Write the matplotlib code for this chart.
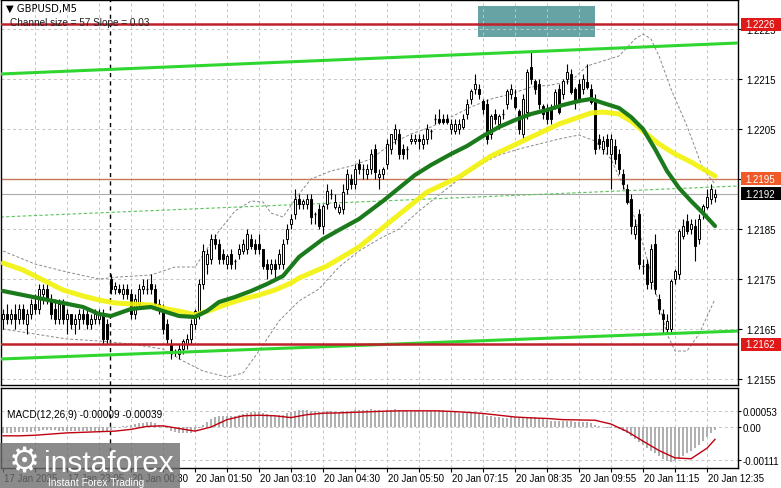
import matplotlib
matplotlib.use('Agg')
import matplotlib.pyplot as plt
from matplotlib.patches import Rectangle
import matplotlib.transforms as mtrans

plt.rcParams['font.family'] = ['Liberation Sans', 'DejaVu Sans']

# ---------------- data (GBPUSD M5) ----------------
opens = [1.2167,1.2168,1.2167,1.2168,1.2167,1.2169,1.2166,1.2168,1.2170,1.2169,
 1.2172,1.2173,1.2171,1.2169,1.2167,1.2170,1.2167,1.2168,1.2166,1.2167,
 1.2168,1.2168,1.2166,1.2167,1.2167,1.2168,1.2166,1.2175,1.2173,1.2173,
 1.2172,1.2173,1.2172,1.2168,1.2170,1.2173,1.2173,1.2174,1.2173,1.2169,
 1.2169,1.2166,1.2162,1.21605,1.2160,1.2161,1.2162,1.2163,1.2166,1.2168,
 1.2174,1.2178,1.2179,1.2183,1.2182,1.2180,1.2178,1.2180,1.21785,1.2180,
 1.21805,1.2181,1.2183,1.2182,1.2182,1.2181,1.2178,1.2177,1.2178,1.2178,
 1.2178,1.2183,1.2186,1.2188,1.2191,1.2190,1.2190,1.2191,1.2188,1.2189,
 1.21855,1.2190,1.2192,1.21895,1.21885,1.2189,1.2193,1.2195,1.2194,1.2198,
 1.2197,1.2196,1.2197,1.2201,1.21955,1.2196,1.2198,1.2201,1.2203,1.2204,
 1.2201,1.2201,1.22025,1.22025,1.2203,1.2202,1.2203,1.22045,1.2207,1.2207,
 1.2207,1.2207,1.2205,1.22045,1.2205,1.22055,1.2208,1.2211,1.2213,1.2213,
 1.22105,1.2210,1.2204,1.2208,1.2206,1.2208,1.2210,1.2212,1.22115,1.22085,
 1.2204,1.22085,1.22175,1.22145,1.2214,1.22095,1.2209,1.2209,1.22095,1.2213,
 1.2212,1.2215,1.2216,1.2213,1.2214,1.2213,1.22145,1.2213,1.2211,1.2203,
 1.2201,1.2203,1.2200,1.22015,1.2200,1.2196,1.2193,1.2191,1.2184,1.2188,
 1.21775,1.2178,1.21745,1.2182,1.2171,1.2168,1.2165,1.2165,1.2175,1.2176,
 1.21835,1.21865,1.2185,1.21855,1.2183,1.2188,1.21895,1.2191,1.21915]
highs = [1.2169,1.2170,1.2169,1.2170,1.2170,1.2170,1.2169,1.2171,1.2172,1.2174,
 1.2174,1.2174,1.2172,1.2171,1.2171,1.2171,1.2169,1.2168,1.2168,1.2169,
 1.2169,1.2169,1.2168,1.2169,1.2169,1.2169,1.2167,1.2176,1.21745,1.2174,
 1.2174,1.2174,1.2173,1.2172,1.2174,1.2175,1.2175,1.2176,1.2174,1.2171,
 1.2170,1.2167,1.2163,1.2161,1.2162,1.2163,1.2164,1.2167,1.2169,1.2175,
 1.2182,1.2181,1.2184,1.2184,1.2183,1.2181,1.2180,1.2181,1.2179,1.2182,
 1.2183,1.2185,1.2184,1.2183,1.2184,1.2181,1.2179,1.2179,1.2179,1.2181,
 1.2183,1.2186,1.2188,1.2193,1.2192,1.2191,1.2192,1.2192,1.21885,1.2190,
 1.2190,1.2194,1.2193,1.2192,1.2190,1.2194,1.2197,1.2196,1.2198,1.2199,
 1.2198,1.2198,1.2201,1.2202,1.2197,1.21975,1.2203,1.2204,1.2206,1.2205,
 1.2202,1.22015,1.2204,1.2204,1.2204,1.2204,1.2206,1.2205,1.2208,1.2209,
 1.2208,1.2208,1.2207,1.2207,1.2207,1.2208,1.2211,1.2213,1.2216,1.2214,
 1.2211,1.2211,1.2208,1.2209,1.2208,1.2209,1.2213,1.2214,1.2213,1.2209,
 1.2212,1.2217,1.22205,1.2215,1.2215,1.2210,1.2210,1.2210,1.2213,1.2214,
 1.2215,1.2218,1.2217,1.22135,1.2215,1.2216,1.2218,1.2214,1.2212,1.2204,
 1.22035,1.2204,1.2204,1.2203,1.2201,1.2197,1.2194,1.2192,1.2187,1.2189,
 1.2179,1.2179,1.2182,1.2184,1.2172,1.2169,1.2168,1.2175,1.2177,1.2185,
 1.2187,1.2188,1.2187,1.2187,1.2188,1.2190,1.2193,1.2194,1.2193]
lows = [1.2165,1.2166,1.2166,1.2165,1.2166,1.2166,1.2164,1.2167,1.2168,1.2168,
 1.2170,1.2170,1.2167,1.2166,1.2166,1.2166,1.2164,1.2165,1.2164,1.2165,
 1.2166,1.2165,1.2165,1.2166,1.2166,1.2162,1.2162,1.2172,1.2172,1.2172,
 1.2171,1.2171,1.2167,1.2167,1.2169,1.2172,1.2172,1.2172,1.2169,1.2168,
 1.2164,1.2162,1.2159,1.21595,1.2159,1.2160,1.2161,1.2162,1.2165,1.2167,
 1.2173,1.2176,1.2178,1.2181,1.2178,1.2178,1.2177,1.2177,1.2177,1.2179,
 1.2180,1.2180,1.2181,1.2180,1.2180,1.2177,1.2175,1.2176,1.2175,1.2177,
 1.2177,1.2182,1.2185,1.2187,1.2189,1.2189,1.2189,1.2186,1.2186,1.2185,
 1.2184,1.2189,1.2191,1.2189,1.2188,1.2188,1.2192,1.2193,1.2193,1.2196,
 1.2195,1.2195,1.2196,1.2195,1.2193,1.2195,1.2197,1.2200,1.2202,1.2199,
 1.2199,1.2199,1.2202,1.2202,1.2201,1.2201,1.2202,1.2203,1.2206,1.2206,
 1.2206,1.2206,1.2204,1.2204,1.2204,1.2205,1.2207,1.2210,1.2212,1.2211,
 1.2208,1.2202,1.2203,1.2206,1.2205,1.2207,1.2209,1.2211,1.2209,1.2204,
 1.2203,1.2207,1.2214,1.2212,1.2209,1.2207,1.2206,1.2206,1.2209,1.2208,
 1.2211,1.2214,1.2212,1.2209,1.2211,1.2212,1.2213,1.2210,1.2200,1.2201,
 1.2200,1.2200,1.2193,1.2198,1.2196,1.2193,1.2190,1.2184,1.2183,1.2177,
 1.2176,1.2173,1.2173,1.2172,1.2168,1.2164,1.2164,1.2164,1.2174,1.2175,
 1.2183,1.2184,1.2184,1.21785,1.2182,1.2187,1.2189,1.2190,1.21905]
closes = [1.2168,1.2167,1.2168,1.2167,1.2169,1.2167,1.2168,1.2170,1.2169,1.2173,
 1.2173,1.2171,1.2168,1.2167,1.2170,1.2167,1.2168,1.2166,1.2167,1.2168,
 1.2167,1.2166,1.2167,1.2168,1.2168,1.2163,1.2163,1.2173,1.21735,1.21725,
 1.2173,1.2172,1.2168,1.2171,1.2173,1.21735,1.2173,1.2173,1.2170,1.2170,
 1.2165,1.2163,1.21605,1.21605,1.2161,1.21625,1.2163,1.2166,1.21685,1.2174,
 1.21805,1.2180,1.2183,1.2182,1.2179,1.2179,1.21795,1.2178,1.21785,1.2181,
 1.2182,1.2184,1.21815,1.2181,1.2181,1.21775,1.2177,1.2178,1.2177,1.2180,
 1.2182,1.2185,1.2187,1.2191,1.2190,1.21905,1.2191,1.21875,1.2188,1.21855,
 1.21895,1.21925,1.2192,1.21905,1.21895,1.21925,1.2196,1.2194,1.2197,1.2197,
 1.2197,1.2197,1.2200,1.21965,1.2196,1.2197,1.2202,1.2204,1.2205,1.2200,
 1.2200,1.2201,1.2203,1.2203,1.22025,1.2203,1.2205,1.22045,1.2207,1.22065,
 1.22065,1.22065,1.2206,1.2206,1.2206,1.2207,1.2210,1.22125,1.2214,1.2212,
 1.2209,1.2203,1.22075,1.2207,1.22075,1.2208,1.22125,1.2213,1.22095,1.2205,
 1.2211,1.22165,1.2215,1.2213,1.2210,1.2208,1.2207,1.2207,1.22125,1.22085,
 1.22145,1.22165,1.22125,1.22105,1.2211,1.2215,1.22135,1.22105,1.2201,1.2202,
 1.22025,1.22015,1.2203,1.2199,1.2197,1.2194,1.21905,1.21855,1.21855,1.2178,
 1.21775,1.2174,1.2181,1.2173,1.2169,1.2167,1.21665,1.21745,1.21765,1.21845,
 1.21855,1.21845,1.2186,1.21815,1.2187,1.21895,1.21915,1.2193,1.2192]

# moving averages read at selected bars
ma_fast_idx = [0,5,10,15,20,24,27,32,37,40,44,48,51,54,58,62,66,70,74,80,84,89,95,99,
               103,107,112,116,120,124,128,132,136,140,144,147,150,154,157,160,163,166,
               169,172,175,178]
ma_fast = [1.21726,1.21718,1.21710,1.21702,1.21694,1.21680,1.21676,1.21690,1.21694,1.21686,
           1.21676,1.21674,1.21686,1.21704,1.21714,1.21726,1.21740,1.21756,1.21794,1.21830,
           1.21848,1.21870,1.21906,1.21932,1.21958,1.21978,1.22000,1.22016,1.22036,1.22054,
           1.22068,1.22080,1.22088,1.22098,1.22106,1.22110,1.22102,1.22092,1.22074,1.22050,
           1.22010,1.21966,1.21932,1.21906,1.21882,1.21856]
ma_slow_idx = [0,5,10,15,20,24,28,32,37,41,45,48,52,56,60,64,68,72,74,81,89,97,106,114,
               122,131,139,147,150,154,157,160,164,168,172,175,178]
ma_slow = [1.21782,1.21768,1.21748,1.21728,1.21716,1.21708,1.21702,1.21700,1.21698,1.21690,
           1.21684,1.21678,1.21688,1.21700,1.21710,1.21718,1.21728,1.21742,1.21752,1.21776,
           1.21814,1.21866,1.21924,1.21954,1.21996,1.22030,1.22060,1.22082,1.22084,1.22080,
           1.22066,1.22046,1.22020,1.22000,1.21984,1.21970,1.21956]
band_up_idx = [0,8,16,24,29,37,43,48,51,54,58,62,65,67,70,74,77,82,87,92,97,102,107,112,
               117,122,127,132,137,142,146,150,154,158,160,162,164,167,171,175,178]
band_up = [1.21806,1.21780,1.21764,1.21750,1.21754,1.21758,1.21774,1.21774,1.21810,1.21846,
           1.21886,1.21906,1.21904,1.21882,1.21874,1.21920,1.21950,1.21966,1.21976,1.21990,
           1.22020,1.22040,1.22054,1.22074,1.22094,1.22110,1.22120,1.22134,1.22138,1.22146,
           1.22176,1.22186,1.22196,1.22230,1.22240,1.22230,1.22196,1.22130,1.22056,1.21970,
           1.21940]
band_dn_idx = [0,8,16,24,32,40,45,50,56,60,64,69,74,79,84,89,94,99,104,109,114,119,124,
               129,134,139,144,148,152,156,160,163,166,168,171,174,178]
band_dn = [1.21650,1.21640,1.21630,1.21626,1.21620,1.21610,1.21586,1.21566,1.21554,1.21562,
           1.21606,1.21666,1.21706,1.21730,1.21774,1.21806,1.21830,1.21850,1.21886,1.21918,
           1.21950,1.21978,1.21998,1.22010,1.22020,1.22030,1.22038,1.22026,1.21990,1.21920,
           1.21820,1.21730,1.21640,1.21606,1.21606,1.21640,1.21710]

# MACD(12,26,9)
macd_hist = [-0.00020,-0.00020,-0.00019,-0.00018,-0.00018,-0.00017,-0.00017,-0.00016,-0.00014,-0.00012,-0.00010,
 -0.00010,-0.00010,-0.00011,-0.00012,-0.00012,-0.00013,-0.00013,-0.00014,-0.00014,-0.00014,
 -0.00014,-0.00013,-0.00013,-0.00012,-0.00014,-0.00016,
 -0.00010,-0.00005,0.00000,0.00003,0.00005,
 0.00008,0.00010,0.00013,0.00015,0.00017,0.00016,
 0.00012,0.00008,0.00002,-0.00005,-0.00012,-0.00017,-0.00020,-0.00022,-0.00022,-0.00020,
 -0.00015,-0.00005,0.00008,0.00018,0.00028,
 0.00033,0.00036,0.00038,0.00038,0.00038,0.00039,0.00042,0.00045,
 0.00048,0.00050,0.00050,0.00050,0.00047,0.00044,0.00042,0.00040,0.00040,0.00042,
 0.00046,0.00050,0.00055,0.00057,0.00058,0.00058,0.00056,0.00054,0.00052,0.00052,
 0.00053,0.00053,0.00052,0.00052,0.00053,0.00055,0.00056,0.00057,0.00058,0.00059,
 0.00059,0.00060,0.00058,0.00057,0.00056,0.00057,0.00059,0.00060,0.00058,0.00056,
 0.00055,0.00055,0.00055,0.00054,0.00054,0.00055,0.00055,0.00056,0.00057,0.00057,
 0.00055,0.00052,0.00050,0.00048,0.00047,0.00047,0.00048,0.00048,0.00047,0.00044,
 0.00038,0.00036,0.00034,0.00033,0.00032,0.00032,0.00033,0.00033,0.00031,0.00029,
 0.00032,0.00034,0.00033,0.00030,0.00027,0.00024,0.00022,0.00022,0.00020,0.00020,
 0.00021,0.00020,0.00018,0.00017,0.00018,0.00017,0.00014,0.00008,
 0.00004,0.00001,-0.00002,-0.00002,-0.00005,-0.00008,-0.00014,-0.00022,-0.00032,-0.00040,
 -0.00052,-0.00062,-0.00072,-0.00080,-0.00090,-0.00098,-0.00108,-0.00115,-0.00118,-0.00117,
 -0.00110,-0.00100,-0.00090,-0.00080,-0.00070,-0.00060,-0.00048,-0.00035,-0.00022,-0.00009]
signal_idx = [0,4,8,12,16,20,24,28,32,36,40,44,48,52,56,60,64,68,72,76,80,84,88,92,96,
              100,104,108,112,116,120,124,128,132,136,140,144,148,152,156,160,164,168,172,
              176,178]
signal = [-0.00030,-0.00030,-0.00028,-0.00024,-0.00020,-0.00018,-0.00016,-0.00014,-0.00008,
          0.00002,0.00004,-0.00005,-0.00014,0.00000,0.00025,0.00038,0.00040,0.00038,0.00032,
          0.00042,0.00047,0.00048,0.00050,0.00052,0.00054,0.00055,0.00055,0.00055,0.00053,
          0.00050,0.00046,0.00040,0.00034,0.00031,0.00029,0.00025,0.00024,0.00023,0.00010,
          -0.00015,-0.00048,-0.00080,-0.00105,-0.00108,-0.00072,-0.00042]

# levels and drawn objects
resistance = 1.2226
support = 1.2162
orange_level = 1.2195
bid = 1.2192
channel_upper = [1.22160, 1.22222]
channel_lower = [1.21590, 1.21646]
green_dashed = [1.21874, 1.21936]
zone_bars = [118.75, 148.0]
zone_prices = [1.22234, 1.22296]

price_ticks = [1.2155, 1.2165, 1.2175, 1.2185, 1.2195, 1.2205, 1.2215, 1.2225]
price_labels = ['1.2155', '1.2165', '1.2175', '1.2185', '', '1.2205', '1.2215', '1.2225']
macd_ticks = [-0.00111, 0.0, 0.00053]
macd_labels = ['-0.00111', '0.00', '0.00053']
time_idx = [0, 16, 32, 48, 64, 80, 96, 112, 128, 144, 160, 176]
time_labels = ['17 Jan 2025', '17 Jan 23:05', '20 Jan 00:30', '20 Jan 01:50',
               '20 Jan 03:10', '20 Jan 04:30', '20 Jan 05:50', '20 Jan 07:15',
               '20 Jan 08:35', '20 Jan 09:55', '20 Jan 11:15', '20 Jan 12:35']
day_sep = 26.75

# ---------------- figure ----------------
W, H = 781, 489
fig = plt.figure(figsize=(W / 100, H / 100), dpi=100)
fig.patch.set_facecolor('white')

def fx(px):
    return px / W

def fy(py):
    return 1 - py / H

ax = fig.add_axes([fx(0.5), fy(386), fx(738) - fx(0.5), fy(1) - fy(386)])
ax2 = fig.add_axes([fx(0.5), fy(469), fx(738) - fx(0.5), fy(389) - fy(469)])

XL = (-0.625, 183.75)
for a in (ax, ax2):
    a.set_xlim(*XL)
    for s in a.spines.values():
        s.set_color('black')
        s.set_linewidth(1.0)
    a.set_facecolor('white')
ax.set_ylim(1.21538, 1.22308)
ax2.set_ylim(-0.001394, 0.001326)

grid_kw = dict(color='#c4c4c4', lw=0.7, ls=(0, (3, 3)), zorder=1)
for p in price_ticks:
    ax.axhline(p, **grid_kw)
for m in macd_ticks:
    ax2.axhline(m, **grid_kw)
for i in range(8, 184, 8):
    ax.axvline(i, **grid_kw)
    ax2.axvline(i, **grid_kw)
for a in (ax, ax2):
    a.axvline(day_sep, color='black', lw=1.0, ls=(0, (3, 3)), zorder=2)

# zone box
ax.add_patch(Rectangle((zone_bars[0], zone_prices[0]), zone_bars[1] - zone_bars[0],
                       zone_prices[1] - zone_prices[0], facecolor='#5f9ea0',
                       edgecolor='none', alpha=0.95, zorder=0.5))

# bands
band_kw = dict(color='#8a8a8a', lw=0.7, ls=(0, (3, 2)), zorder=2)
ax.plot(band_up_idx, band_up, **band_kw)
ax.plot(band_dn_idx, band_dn, **band_kw)

# horizontal levels / channel
ax.axhline(orange_level, color='#c8785a', lw=1.0, zorder=2)
ax.axhline(bid, color='#aaaaaa', lw=0.8, zorder=2)
ax.plot(XL, green_dashed, color='#5ec45e', lw=0.8, ls=(0, (3, 2)), zorder=2)
ax.plot(XL, channel_upper, color='#2fd62f', lw=2.2, zorder=5, solid_capstyle='butt')
ax.plot(XL, channel_lower, color='#2fd62f', lw=2.2, zorder=5, solid_capstyle='butt')

# candles
for i, (o, h, l, c) in enumerate(zip(opens, highs, lows, closes)):
    ax.vlines(i, l, h, color='black', lw=0.8, zorder=3)
    lo, hi = min(o, c), max(o, c)
    if hi - lo < 0.00002:
        ax.hlines(o, i - 0.35, i + 0.35, color='black', lw=0.9, zorder=3.1)
    else:
        fc = 'white' if c > o else 'black'
        ax.bar(i, hi - lo, bottom=lo, width=0.72, facecolor=fc, edgecolor='black',
               linewidth=0.7, zorder=3.1)

# moving averages
ax.plot(ma_slow_idx, ma_slow, color='#f2f20a', lw=3.6, alpha=0.9, zorder=4,
        solid_capstyle='round')
ax.plot(ma_fast_idx, ma_fast, color='#1b7a1b', lw=3.0, zorder=4.2, solid_capstyle='round')

ax.axhline(resistance, color='#c0202a', lw=1.8, zorder=6)
ax.axhline(support, color='#c0202a', lw=1.8, zorder=6)

# y axis (right)
ax.yaxis.tick_right()
ax.set_yticks(price_ticks)
ax.set_yticklabels(price_labels)
ax.tick_params(axis='y', length=3, width=0.8, labelsize=7, pad=3, colors='black')
ax.tick_params(axis='x', length=0, labelbottom=False)

blend = mtrans.blended_transform_factory(ax.transAxes, ax.transData)
box_h = 13 / 50000.0
def tag(val, txt, bg):
    ax.add_patch(Rectangle((1.0 + 3 / 737, val - box_h / 2), 43 / 737, box_h,
                           transform=blend, facecolor=bg, edgecolor='none',
                           clip_on=False, zorder=9))
    ax.text(1.0 + 7 / 737, val, txt, transform=blend, ha='left', va='center',
            fontsize=7, color='white', zorder=10, clip_on=False)
tag(resistance, '1.2226', '#e01818')
tag(orange_level, '1.2195', '#f05a28')
tag(bid, '1.2192', '#000000')
tag(support, '1.2162', '#e01818')

# MACD panel
ax2.bar(range(len(macd_hist)), macd_hist, width=0.5, color='#b0b0b0', zorder=2)
ax2.plot(signal_idx, signal, color='#c00010', lw=1.0, zorder=3)
ax2.yaxis.tick_right()
ax2.set_yticks(macd_ticks)
ax2.set_yticklabels(macd_labels)
ax2.tick_params(axis='y', length=2, width=0.8, labelsize=7, pad=1)
ax2.set_xticks(list(range(0, 184, 8)))
ax2.set_xticklabels([])
ax2.tick_params(axis='x', length=3, width=0.8, direction='out')

for i, t in zip(time_idx, time_labels):
    fig.text(fx(3 + 4 * i + 1), fy(479), t, ha='left', va='center', fontsize=7, color='black')

# header texts
fig.text(fx(6), fy(9), '\u25bc GBPUSD,M5', ha='left', va='center', fontsize=7.2,
         color='black', family=['DejaVu Sans'])
fig.text(fx(10), fy(23), 'Channel size = 57 Slope = 0.03', ha='left', va='center',
         fontsize=7.2, color='#202020', zorder=7)
fig.text(fx(7), fy(415), 'MACD(12,26,9) -0.00009 -0.00039', ha='left', va='center',
         fontsize=7.2, color='black')

# watermark
fig.patches.append(Rectangle((0, 0), fx(180), 45 / H, transform=fig.transFigure,
                             facecolor='#6e6e6e', alpha=0.8, edgecolor='none', zorder=20))
fig.text(fx(24), fy(463), '\u2699', ha='center', va='center', fontsize=25, color='white',
         family=['DejaVu Sans'], zorder=21)
fig.text(fx(44), fy(472), 'instaforex', ha='left', va='baseline', fontsize=21.5,
         color='white', zorder=21)
fig.text(fx(48), fy(483), 'Instant Forex Trading', ha='left', va='center', fontsize=7.3,
         color='white', zorder=21)

fig.savefig('out.png', dpi=100)
